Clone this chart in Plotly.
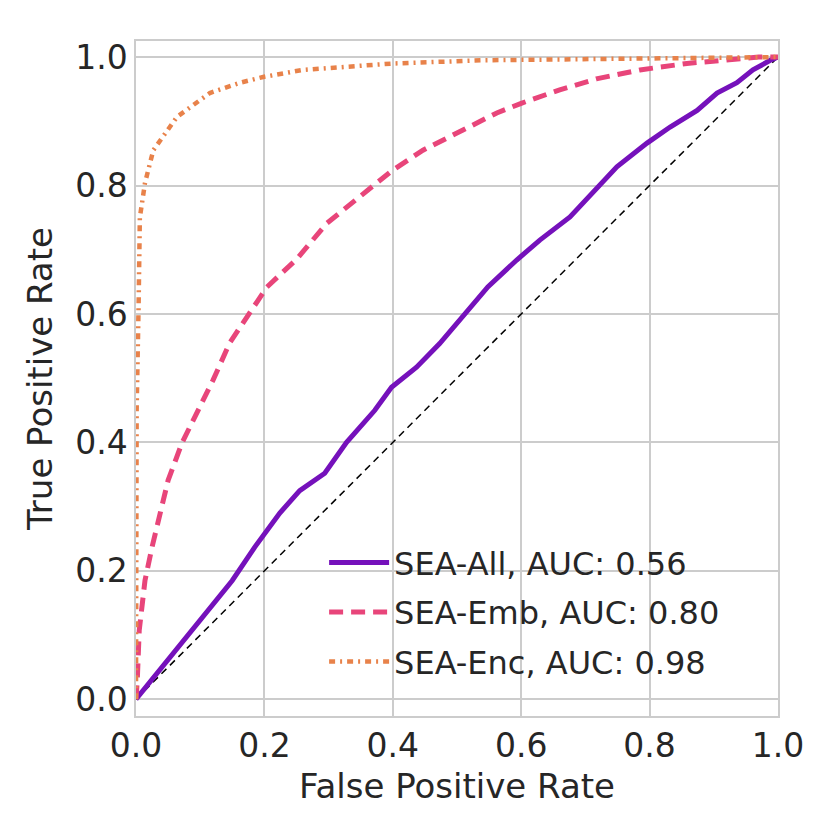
import plotly.graph_objects as go

# ROC points
all_fpr = [0, 0.037, 0.066, 0.11, 0.15, 0.185, 0.224, 0.255, 0.294, 0.328, 0.372, 0.398, 0.437, 0.473,
           0.512, 0.548, 0.593, 0.629, 0.676, 0.712, 0.749, 0.796, 0.832, 0.874, 0.905, 0.936, 0.961, 0.988, 1.0]
all_tpr = [0, 0.045, 0.081, 0.134, 0.185, 0.237, 0.29, 0.325, 0.352, 0.4, 0.45, 0.486, 0.517, 0.554,
           0.6, 0.642, 0.684, 0.715, 0.751, 0.79, 0.829, 0.866, 0.891, 0.917, 0.944, 0.96, 0.98, 0.995, 1.0]

emb_fpr = [0, 0.002, 0.005, 0.014, 0.025, 0.05, 0.072, 0.12, 0.146, 0.204, 0.25, 0.297, 0.37, 0.4,
           0.447, 0.5, 0.562, 0.6, 0.66, 0.717, 0.785, 0.858, 0.905, 0.97, 1.0]
emb_tpr = [0, 0.03, 0.107, 0.185, 0.237, 0.341, 0.4, 0.497, 0.555, 0.642, 0.685, 0.741, 0.8, 0.824,
           0.855, 0.881, 0.913, 0.928, 0.949, 0.966, 0.98, 0.99, 0.995, 1.0, 1.0]

enc_fpr = [0, 0.001, 0.004, 0.006, 0.014, 0.027, 0.064, 0.115, 0.162, 0.198, 0.26, 0.4, 0.54, 0.7, 0.85, 1.0]
enc_tpr = [0, 0.45, 0.61, 0.75, 0.804, 0.855, 0.907, 0.944, 0.96, 0.969, 0.98, 0.99, 0.995, 0.997, 0.999, 1.0]

names = ["SEA-All, AUC: 0.56", "SEA-Emb, AUC: 0.80", "SEA-Enc, AUC: 0.98"]
colors = ["#7511bb", "#e8457a", "#e8824a"]
dashes = ["solid", "14px,8px", "6px,5px,2px,5px"]
widths = [5, 5, 4.5]

ticks = [0.0, 0.2, 0.4, 0.6, 0.8, 1.0]
tick_text = ["0.0", "0.2", "0.4", "0.6", "0.8", "1.0"]

text_color = "#262626"
grid_color = "#cccccc"

fig = go.Figure()

# chance line
fig.add_trace(go.Scatter(x=[0, 1], y=[0, 1], mode="lines", showlegend=False,
                         line=dict(color="black", width=1.5, dash="7px,5px")))

curves = [(all_fpr, all_tpr), (emb_fpr, emb_tpr), (enc_fpr, enc_tpr)]
for (fpr, tpr), name, color, dash, w in zip(curves, names, colors, dashes, widths):
    fig.add_trace(go.Scatter(x=fpr, y=tpr, mode="lines", name=name, legendgroup=name,
                             line=dict(color=color, width=w, dash=dash)))

axis_style = dict(
    tickvals=ticks, ticktext=tick_text,
    showgrid=True, gridcolor=grid_color, gridwidth=1.5,
    showline=True, linecolor=grid_color, linewidth=1.5, mirror=True,
    zeroline=False, ticks="",
    tickfont=dict(size=33, color=text_color),
)

fig.update_xaxes(range=[0, 1], title=dict(text="False Positive Rate", font=dict(size=34, color=text_color),
                                          standoff=10), **axis_style)
fig.update_yaxes(range=[-0.026, 1.025], title=dict(text="True Positive Rate", font=dict(size=34, color=text_color),
                                                   standoff=12), **axis_style)

fig.update_layout(
    width=830, height=830,
    margin=dict(l=128, r=60, t=33, b=122),
    paper_bgcolor="white", plot_bgcolor="white",
    font=dict(family="DejaVu Sans", color=text_color),
    legend=dict(x=0.293, y=0.268, xanchor="left", yanchor="top",
                bgcolor="rgba(0,0,0,0)", font=dict(size=32, color=text_color),
                itemwidth=60, tracegroupgap=5),
)

fig.write_html("out.html")
